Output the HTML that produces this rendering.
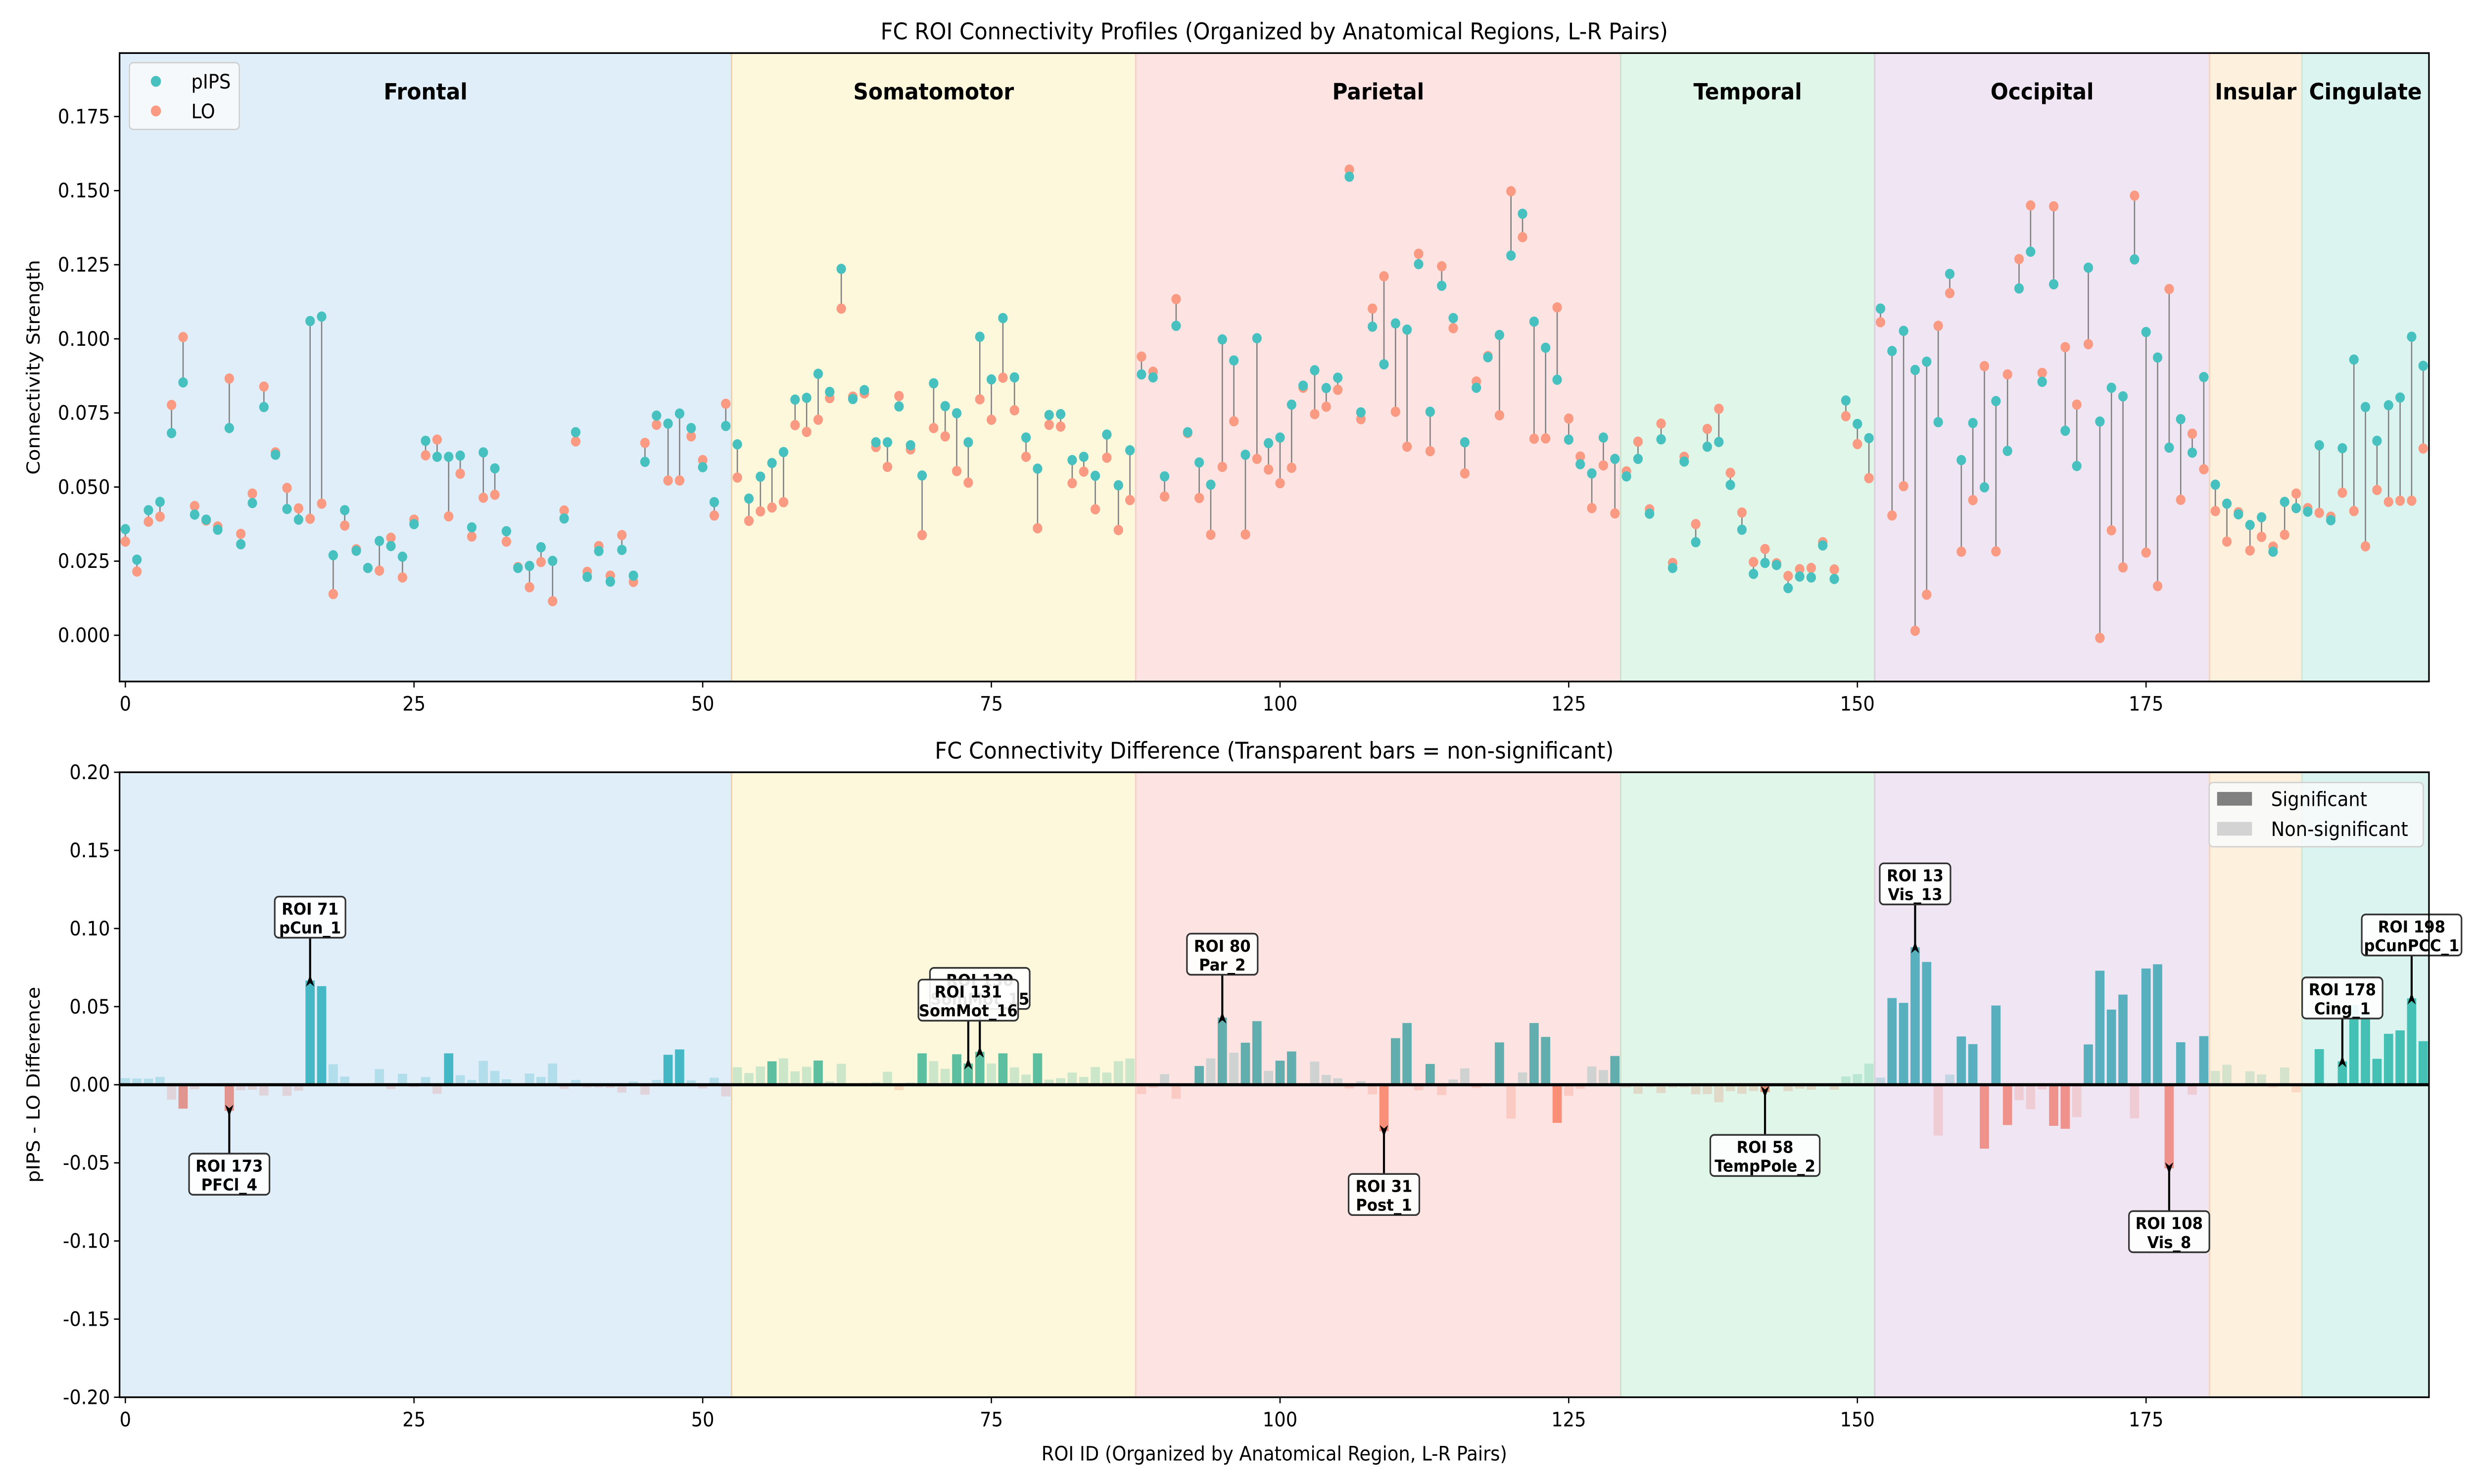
<!DOCTYPE html>
<html><head><meta charset="utf-8">
<style>
html,body{margin:0;padding:0;background:#fff;overflow:hidden;width:100%;height:100%;}
svg{display:block;font-family:"DejaVu Sans","Liberation Sans",sans-serif;width:100vw;height:100vh;}
</style></head>
<body>
<svg id="fig" xmlns="http://www.w3.org/2000/svg" viewBox="0 0 1560 866.67" preserveAspectRatio="none">
<rect x="0" y="0" width="1560" height="866.67" fill="#ffffff"/>
<g id="topchart"></g>
<g id="botchart"></g>
</svg>
<script>
const pips = [0.0358,0.0255,0.0422,0.045,0.0682,0.0853,0.0407,0.039,0.0356,0.0699,
0.0307,0.0446,0.077,0.0609,0.0426,0.039,0.106,0.1075,0.027,0.0422,
0.0285,0.0227,0.0318,0.0301,0.0265,0.0375,0.0656,0.0602,0.0602,0.0606,
0.0364,0.0617,0.0563,0.0351,0.0227,0.0234,0.0297,0.0251,0.0394,0.0685,
0.0197,0.0284,0.0181,0.0288,0.0201,0.0585,0.0741,0.0714,0.0748,0.0699,
0.0567,0.0449,0.0706,0.0644,0.0461,0.0535,0.0581,0.0618,0.0795,0.0801,
0.0882,0.0821,0.1236,0.0797,0.0827,0.0651,0.0651,0.0772,0.0641,0.0539,
0.085,0.0773,0.0749,0.0651,0.1007,0.0863,0.107,0.087,0.0667,0.0562,
0.0743,0.0746,0.0591,0.0602,0.0538,0.0677,0.0506,0.0624,0.088,0.087,
0.0536,0.1044,0.0685,0.0583,0.0508,0.0998,0.0927,0.0609,0.1002,0.0648,
0.0667,0.0778,0.0842,0.0894,0.0834,0.0869,0.1547,0.0752,0.1041,0.0914,
0.1052,0.1031,0.1252,0.0754,0.1179,0.107,0.0651,0.0835,0.0938,0.1013,
0.1281,0.1422,0.1058,0.097,0.0862,0.066,0.0577,0.0546,0.0667,0.0595,
0.0536,0.0595,0.041,0.0661,0.0227,0.0586,0.0314,0.0636,0.0652,0.0507,
0.0356,0.0207,0.0244,0.0237,0.0159,0.0198,0.0195,0.0303,0.019,0.0792,
0.0713,0.0665,0.1102,0.0959,0.1027,0.0895,0.0923,0.0719,0.1219,0.0591,
0.0716,0.0499,0.079,0.0622,0.117,0.1294,0.0855,0.1184,0.069,0.0571,
0.124,0.0721,0.0835,0.0806,0.1268,0.1023,0.0937,0.0633,0.0729,0.0616,
0.0871,0.0508,0.0444,0.0408,0.0372,0.0398,0.0282,0.045,0.0429,0.0417,
0.0641,0.0388,0.0631,0.093,0.077,0.0656,0.0776,0.0802,0.1007,0.0909];
const lo = [0.0316,0.0215,0.0383,0.040,0.0777,0.1006,0.0436,0.0387,0.0367,0.0866,
0.0342,0.0478,0.0839,0.0617,0.0497,0.0428,0.0393,0.0444,0.0139,0.037,
0.029,0.0227,0.0218,0.0329,0.0195,0.039,0.0607,0.066,0.0401,0.0545,
0.0333,0.0464,0.0474,0.0316,0.023,0.0162,0.0247,0.0115,0.0421,0.0654,
0.0214,0.0301,0.0201,0.0338,0.018,0.0649,0.071,0.0522,0.0522,0.0671,
0.0591,0.0404,0.0781,0.0532,0.0386,0.0418,0.0431,0.0449,0.0709,0.0686,
0.0727,0.08,0.1102,0.0805,0.0816,0.0635,0.0568,0.0807,0.0627,0.0338,
0.0699,0.0671,0.0554,0.0515,0.0796,0.0727,0.0869,0.0759,0.0602,0.0361,
0.071,0.0704,0.0513,0.0552,0.0425,0.0599,0.0355,0.0456,0.094,0.0889,
0.0468,0.1134,0.0682,0.0463,0.0339,0.0568,0.0722,0.034,0.0595,0.0559,
0.0513,0.0565,0.0835,0.0746,0.0771,0.0828,0.1571,0.0729,0.1102,0.1211,
0.0754,0.0636,0.1287,0.0621,0.1245,0.1036,0.0546,0.0856,0.0942,0.0742,
0.1498,0.1343,0.0663,0.0664,0.1106,0.0731,0.0603,0.0429,0.0573,0.0411,
0.0553,0.0653,0.0425,0.0714,0.0244,0.0602,0.0375,0.0696,0.0764,0.0548,
0.0414,0.0247,0.0291,0.0243,0.02,0.0223,0.0227,0.0314,0.0222,0.0739,
0.0645,0.053,0.1056,0.0404,0.0503,0.0015,0.0137,0.1044,0.1154,0.0282,
0.0456,0.0908,0.0283,0.088,0.1269,0.145,0.0885,0.1447,0.0972,0.0778,
0.0982,-0.0009,0.0354,0.0229,0.1483,0.0279,0.0166,0.1168,0.0457,0.068,
0.056,0.0419,0.0316,0.0415,0.0286,0.0332,0.0299,0.0339,0.0478,0.0429,
0.0413,0.04,0.0481,0.0419,0.03,0.049,0.045,0.0454,0.0454,0.063];
const sigIdx = [5,9,16,17,28,47,48,56,60,69,72,73,74,76,79,93,95,97,98,100,101,109,110,111,113,119,122,123,124,129,142,153,154,155,156,159,160,161,162,163,167,168,170,171,172,173,175,176,177,178,180,190,192,193,194,195,196,197,198,199];
const regionNames = ["Frontal","Somatomotor","Parietal","Temporal","Occipital","Insular","Cingulate"];
const regionStarts = [0,53,88,130,152,181,189];
const regionEnds = [52,87,129,151,180,188,199];
const regionBg = ["#e0eef9","#fdf7dc","#fde4e2","#e0f6e9","#f0e5f3","#fdf0dc","#dcf4ef"];
const regionEdge = ["#cfe0d8","#f2d2a8","#f2d2c8","#cfe0cf","#ddd0dd","#f0d6c4","#cfe8d8"];
const posColor = ["#45b8c6","#5cbf9f","#62adad","#62c2a6","#58b0bf","#7cc6aa","#45c0b5"];
const negColor = ["#e0968f","#f9a07e","#fa8f78","#e0967a","#f0928c","#f9a78a","#f09888"];
const xTicks = [0,25,50,75,100,125,150,175];
const yTicksTop = [0,0.025,0.05,0.075,0.1,0.125,0.15,0.175];
const yTicksBot = [-0.2,-0.15,-0.1,-0.05,0,0.05,0.1,0.15,0.2];
const annIdx = [16,9,74,73,95,109,142,155,177,192,198];
const annLine1 = ["ROI 71","ROI 173","ROI 130","ROI 131","ROI 80","ROI 31","ROI 58","ROI 13","ROI 108","ROI 178","ROI 198"];
const annLine2 = ["pCun_1","PFCl_4","SomMot_15","SomMot_16","Par_2","Post_1","TempPole_2","Vis_13","Vis_8","Cing_1","pCunPCC_1"];

const NS="http://www.w3.org/2000/svg";
function mk(tag, attrs, parent){const e=document.createElementNS(NS,tag);for(const k in attrs)e.setAttribute(k,attrs[k]);parent.appendChild(e);return e;}
const XMIN=-0.5, XMAX=199.5, AXL=75.4, AXR=1531.6;
function xs(v){return AXL+(v-XMIN)/(XMAX-XMIN)*(AXR-AXL);}
const TA={t:31,b:398,min:-0.0156,max:0.1964};
const BA={t:451,b:816,min:-0.2,max:0.2};
function ysT(v){return TA.b-(v-TA.min)/(TA.max-TA.min)*(TA.b-TA.t);}
function ysB(v){return BA.b-(v-BA.min)/(BA.max-BA.min)*(BA.b-BA.t);}
function regionOf(i){for(let r=regionStarts.length-1;r>=0;r--) if(i>=regionStarts[r]) return r; return 0;}
const topG=document.getElementById('topchart'), botG=document.getElementById('botchart');

function drawRegions(g, A, withLabels){
  for(let r=0;r<regionNames.length;r++){
    const x0=xs(regionStarts[r]-0.5), x1=xs(regionEnds[r]+0.5);
    const rc=mk('rect',{x:x0,y:A.t,width:x1-x0,height:A.b-A.t,fill:regionBg[r]},g);
    
    
    if(r>0){
      const ln=mk('line',{x1:x0,x2:x0,y1:A.t,y2:A.b,stroke:regionEdge[r],'stroke-width':1},g);
      
      
    }
    if(withLabels){
      const t=mk('text',{x:(x0+x1)/2,y:58,'text-anchor':'middle','font-size':13.2,'font-weight':'bold',fill:'#000'},g);
      t.textContent=regionNames[r];
      
      
    }
  }
}
function drawAxes(g, A, yticks, ysf, fmt, ylabel, title){
  const fr=mk('rect',{x:AXL,y:A.t,width:AXR-AXL,height:A.b-A.t,fill:'none',stroke:'#000','stroke-width':1},g);
  
  
  xTicks.forEach(v=>{
    const x=xs(v);
    const tk=mk('line',{x1:x,x2:x,y1:A.b,y2:A.b+3.5,stroke:'#000','stroke-width':0.8},g);
    
    
    const t=mk('text',{x:x,y:A.b+17,'text-anchor':'middle','font-size':11.5,fill:'#000'},g);
    t.textContent=String(v);
    
    
  });
  yticks.forEach(v=>{
    const y=ysf(v);
    const tk=mk('line',{x1:AXL-3.5,x2:AXL,y1:y,y2:y,stroke:'#000','stroke-width':0.8},g);
    
    
    const t=mk('text',{x:AXL-6,y:y+4,'text-anchor':'end','font-size':11.5,fill:'#000'},g);
    t.textContent=fmt(v);
    
    
  });
  const yl=mk('text',{x:0,y:0,'text-anchor':'middle','font-size':11.5,fill:'#000',transform:`translate(25,${(A.t+A.b)/2}) rotate(-90)`},g);
  yl.textContent=ylabel;
  
  
  const tt=mk('text',{x:(AXL+AXR)/2,y:A.t-8,'text-anchor':'middle','font-size':13.5,fill:'#000'},g);
  tt.textContent=title;
  
  
}

/* ---------- TOP CHART ---------- */
drawRegions(topG, TA, true);
for(let i=0;i<pips.length;i++){
  const x=xs(i);
  const s=mk('line',{x1:x,x2:x,y1:ysT(pips[i]),y2:ysT(lo[i]),stroke:'#808080','stroke-width':0.8},topG);
  
  
}
for(let i=0;i<pips.length;i++){
  const x=xs(i);
  const c2=mk('circle',{cx:x,cy:ysT(lo[i]),r:3,fill:'#fa9a82'},topG);
  
  
  const c1=mk('circle',{cx:x,cy:ysT(pips[i]),r:3,fill:'#47c1bf'},topG);
  
  
}
drawAxes(topG, TA, yTicksTop, ysT, v=>v.toFixed(3), 'Connectivity Strength', 'FC ROI Connectivity Profiles (Organized by Anatomical Regions, L-R Pairs)');
const lg=mk('g',{},topG);


const lgb=mk('rect',{x:81.6,y:36.6,width:69.3,height:39,rx:2.5,fill:'#f8fafc','fill-opacity':0.9,stroke:'#d0d0d0','stroke-width':0.8},lg);


[['pIPS','#47c1bf',47.5],['LO','#fa9a82',64.8]].forEach(e=>{
  const c=mk('circle',{cx:98.3,cy:e[2],r:3.2,fill:e[1]},lg);
  
  
  const t=mk('text',{x:120.6,y:e[2]+4.2,'font-size':11.5,fill:'#000'},lg);
  t.textContent=e[0];
  
  
});

/* ---------- BOTTOM CHART ---------- */
drawRegions(botG, BA, false);
const sigSet=new Set(sigIdx);
const bw=(xs(1)-xs(0))*0.8;
for(let i=0;i<pips.length;i++){
  const d=pips[i]-lo[i];
  const r=regionOf(i);
  const col=d>=0?posColor[r]:negColor[r];
  const y0=ysB(0), y1=ysB(d);
  const b=mk('rect',{x:xs(i)-bw/2,y:Math.min(y0,y1),width:bw,height:Math.max(0.3,Math.abs(y1-y0)),fill:col,'fill-opacity':sigSet.has(i)?1:0.3},botG);
  
  
}
const zl=mk('line',{x1:AXL,x2:AXR,y1:ysB(0),y2:ysB(0),stroke:'#000','stroke-width':1.8},botG);


for(let k=0;k<annIdx.length;k++){
  const i=annIdx[k], d=pips[i]-lo[i];
  const x=xs(i), yb=ysB(d), dir=d>=0?-1:1;
  const tip=yb+dir*3.5, cy=yb+dir*37;
  const w=Math.max(annLine1[k].length,annLine2[k].length)*6.1+8, h=24;
  const g=mk('g',{},botG);
  
  
  const ar=mk('line',{x1:x,x2:x,y1:cy-dir*h/2,y2:tip-dir*5,stroke:'#000','stroke-width':1.3},g);
  
  
  const hd=mk('path',{d:`M${x} ${tip} L${x-2.6} ${tip-dir*7} L${x} ${tip-dir*5} L${x+2.6} ${tip-dir*7} Z`,fill:'#000'},g);
  
  
  const bx=mk('rect',{x:x-w/2,y:cy-h/2,width:w,height:h,rx:2.5,fill:'#ffffff','fill-opacity':0.9,stroke:'#333','stroke-width':1},g);
  
  
  const t1=mk('text',{x:x,y:cy-1.5,'text-anchor':'middle','font-size':9.6,'font-weight':'bold',fill:'#000'},g);
  t1.textContent=annLine1[k];
  
  
  const t2=mk('text',{x:x,y:cy+9.5,'text-anchor':'middle','font-size':9.6,'font-weight':'bold',fill:'#000'},g);
  t2.textContent=annLine2[k];
  
  
}
drawAxes(botG, BA, yTicksBot, ysB, v=>v.toFixed(2), 'pIPS - LO Difference', 'FC Connectivity Difference (Transparent bars = non-significant)');
const xl=mk('text',{x:(AXL+AXR)/2,y:853,'text-anchor':'middle','font-size':11.5,fill:'#000'},botG);
xl.textContent='ROI ID (Organized by Anatomical Region, L-R Pairs)';


const lg2=mk('g',{},botG);


const lb2=mk('rect',{x:1393,y:457,width:135,height:37.5,rx:2.5,fill:'#f8fafc','fill-opacity':0.85,stroke:'#d0d0d0','stroke-width':0.8},lg2);


[['Significant','#808080',466.5],['Non-significant','#d3d3d3',484]].forEach(e=>{
  const p=mk('rect',{x:1398,y:e[2]-4,width:22,height:8,fill:e[1]},lg2);
  
  
  const t=mk('text',{x:1432,y:e[2]+4.2,'font-size':11.5,fill:'#000'},lg2);
  t.textContent=e[0];
  
  
});
</script>
</body></html>
